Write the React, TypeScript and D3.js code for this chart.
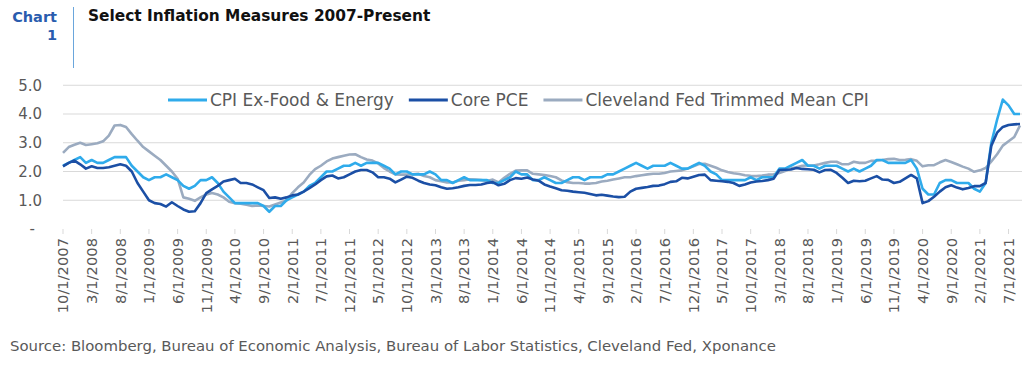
import React, { useEffect, useRef } from 'react';
import * as d3 from 'd3';

// monthly, 10/1/2007 .. 9/1/2021
const months = d3.timeMonth
  .range(new Date(2007, 9, 1), new Date(2021, 9, 1))
  .map((d) => `${d.getMonth() + 1}/1/${d.getFullYear()}`);

const cpiCore = [
  2.2, 2.3, 2.4,
  2.5, 2.3, 2.4, 2.3, 2.3, 2.4, 2.5, 2.5, 2.5, 2.2, 2.0, 1.8,
  1.7, 1.8, 1.8, 1.9, 1.8, 1.7, 1.5, 1.4, 1.5, 1.7, 1.7, 1.8,
  1.6, 1.3, 1.1, 0.9, 0.9, 0.9, 0.9, 0.9, 0.8, 0.6, 0.8, 0.8,
  1.0, 1.1, 1.2, 1.3, 1.5, 1.6, 1.8, 2.0, 2.0, 2.1, 2.2, 2.2,
  2.3, 2.2, 2.3, 2.3, 2.3, 2.2, 2.1, 1.9, 2.0, 2.0, 1.9, 1.9,
  1.9, 2.0, 1.9, 1.7, 1.7, 1.6, 1.7, 1.8, 1.7, 1.7, 1.7, 1.7,
  1.6, 1.6, 1.7, 1.8, 2.0, 1.9, 1.9, 1.7, 1.7, 1.8, 1.7, 1.6,
  1.6, 1.7, 1.8, 1.8, 1.7, 1.8, 1.8, 1.8, 1.9, 1.9, 2.0, 2.1,
  2.2, 2.3, 2.2, 2.1, 2.2, 2.2, 2.2, 2.3, 2.2, 2.1, 2.1, 2.2,
  2.3, 2.2, 2.0, 1.9, 1.7, 1.7, 1.7, 1.7, 1.7, 1.8, 1.7, 1.8,
  1.8, 1.8, 2.1, 2.1, 2.2, 2.3, 2.4, 2.2, 2.2, 2.1, 2.2, 2.2,
  2.2, 2.1, 2.0, 2.1, 2.0, 2.1, 2.2, 2.4, 2.4, 2.3, 2.3, 2.3,
  2.3, 2.4, 2.1, 1.4, 1.2, 1.2, 1.6, 1.7, 1.7, 1.6, 1.6, 1.6,
  1.4, 1.3, 1.6, 3.0, 3.8, 4.5, 4.3, 4.0, 4.0,
];

const corePce = [
  2.18, 2.3, 2.38,
  2.25, 2.1, 2.18, 2.12, 2.12, 2.15, 2.2, 2.25, 2.2, 2.0, 1.6, 1.3,
  1.0, 0.9, 0.87, 0.78, 0.93, 0.8, 0.68, 0.6, 0.62, 0.9, 1.25, 1.38,
  1.5, 1.65, 1.7, 1.75, 1.6, 1.6, 1.55, 1.45, 1.35, 1.08, 1.1, 1.05,
  1.1, 1.17, 1.2, 1.3, 1.42, 1.55, 1.7, 1.83, 1.86, 1.76, 1.8, 1.9,
  2.0, 2.05, 2.05, 1.97, 1.8, 1.8, 1.75, 1.62, 1.72, 1.82, 1.78, 1.68,
  1.6, 1.55, 1.52, 1.45, 1.4, 1.42, 1.45, 1.5, 1.53, 1.53, 1.55, 1.6,
  1.63, 1.52, 1.57, 1.7, 1.77, 1.75, 1.79, 1.72, 1.68, 1.55, 1.48, 1.42,
  1.35, 1.33, 1.3, 1.28, 1.26, 1.22, 1.17, 1.19, 1.16, 1.13, 1.11, 1.12,
  1.3, 1.4, 1.43, 1.46, 1.5, 1.51, 1.56, 1.64, 1.66, 1.78, 1.76, 1.82,
  1.88, 1.89, 1.7, 1.68, 1.66, 1.64, 1.6, 1.5, 1.55, 1.62, 1.65, 1.67,
  1.7, 1.75, 2.05, 2.06, 2.07, 2.12, 2.09, 2.08, 2.06, 1.97, 2.05, 2.06,
  1.95, 1.78, 1.6, 1.68, 1.66, 1.68, 1.76, 1.84, 1.72, 1.71, 1.6, 1.64,
  1.76, 1.88, 1.76, 0.9, 0.97, 1.12, 1.3, 1.45, 1.52, 1.44, 1.38, 1.43,
  1.49, 1.49, 1.6, 2.9, 3.35, 3.55, 3.62, 3.64, 3.65,
];

const trimmedMean = [
  2.65, 2.85, 2.93,
  3.0, 2.92, 2.95, 2.98, 3.05, 3.25, 3.6, 3.62, 3.55, 3.3, 3.07, 2.85,
  2.7, 2.55, 2.4, 2.2, 2.0, 1.75, 1.1, 1.05, 0.98, 1.1, 1.2, 1.25,
  1.2, 1.1, 0.95, 0.9, 0.88, 0.84, 0.8, 0.82, 0.8, 0.78, 0.85, 0.92,
  0.99, 1.25, 1.45, 1.62, 1.88, 2.08, 2.2, 2.35, 2.45, 2.5, 2.55, 2.59,
  2.6, 2.5, 2.42, 2.38, 2.28, 2.12, 2.0, 1.9, 1.89, 1.89, 1.9, 1.92,
  1.84, 1.8, 1.7, 1.66, 1.62, 1.62, 1.68, 1.7, 1.73, 1.72, 1.7, 1.67,
  1.72, 1.62, 1.78, 1.92, 2.03, 2.04, 2.04, 1.92, 1.9, 1.88, 1.84, 1.8,
  1.69, 1.63, 1.6, 1.6, 1.58, 1.58, 1.6, 1.65, 1.68, 1.72, 1.76, 1.8,
  1.8, 1.84, 1.87, 1.9, 1.92, 1.92, 1.95, 2.0, 2.02, 2.04, 2.1, 2.18,
  2.26, 2.27, 2.2, 2.13, 2.04, 1.98, 1.94, 1.91, 1.87, 1.85, 1.84, 1.86,
  1.89, 1.9, 1.95, 2.02, 2.1, 2.15, 2.2, 2.21, 2.21, 2.25, 2.3, 2.34,
  2.34, 2.25, 2.25, 2.34, 2.3, 2.3, 2.37, 2.38, 2.4, 2.43, 2.44, 2.4,
  2.41, 2.43, 2.37, 2.18, 2.22, 2.22, 2.32, 2.4, 2.33, 2.25, 2.17, 2.1,
  1.99, 2.04, 2.12, 2.35, 2.6, 2.9, 3.05, 3.2, 3.6,
];

const tickLabels = [
  '10/1/2007', '3/1/2008', '8/1/2008', '1/1/2009', '6/1/2009', '11/1/2009',
  '4/1/2010', '9/1/2010', '2/1/2011', '7/1/2011', '12/1/2011', '5/1/2012',
  '10/1/2012', '3/1/2013', '8/1/2013', '1/1/2014', '6/1/2014', '11/1/2014',
  '4/1/2015', '9/1/2015', '2/1/2016', '7/1/2016', '12/1/2016', '5/1/2017',
  '10/1/2017', '3/1/2018', '8/1/2018', '1/1/2019', '6/1/2019', '11/1/2019',
  '4/1/2020', '9/1/2020', '2/1/2021', '7/1/2021',
];

const yTicks = [0, 1, 2, 3, 4, 5];

const seriesNames = ['CPI Ex-Food & Energy', 'Core PCE', 'Cleveland Fed Trimmed Mean CPI'];
const seriesColors = ['#2fabeb', '#1b4fa5', '#9babc0'];

const FONT = "'DejaVu Sans', sans-serif";
const GREY = '#595959';

const App = () => {
  const ref = useRef(null);

  useEffect(() => {
    const svg = d3.select(ref.current);
    svg.selectAll('*').remove();

    const x = d3.scalePoint().domain(months).range([63, 1020]);
    const y = d3.scaleLinear().domain([0, 5]).range([229, 85.25]);

    // header
    svg.append('text').attr('x', 57).attr('y', 22).attr('text-anchor', 'end')
      .attr('font-family', FONT).attr('font-weight', 'bold').attr('font-size', 14.5)
      .attr('fill', '#2a5cae').text('Chart');
    svg.append('text').attr('x', 57).attr('y', 40).attr('text-anchor', 'end')
      .attr('font-family', FONT).attr('font-weight', 'bold').attr('font-size', 14.5)
      .attr('fill', '#2a5cae').text('1');
    svg.append('line').attr('x1', 73.5).attr('x2', 73.5).attr('y1', 7).attr('y2', 68)
      .attr('stroke', '#6aa6dc').attr('stroke-width', 1);
    svg.append('text').attr('x', 88).attr('y', 21)
      .attr('font-family', FONT).attr('font-weight', 'bold').attr('font-size', 15.4)
      .attr('fill', '#111').text('Select Inflation Measures 2007-Present');

    // gridlines
    svg.append('g').selectAll('line')
      .data(yTicks.filter((d) => d > 0))
      .enter().append('line')
      .attr('x1', 63).attr('x2', 1022)
      .attr('y1', (d) => y(d)).attr('y2', (d) => y(d))
      .attr('stroke', '#d9d9d9').attr('stroke-width', 1);

    // y labels
    svg.append('g').selectAll('text')
      .data(yTicks)
      .enter().append('text')
      .attr('x', (d) => (d === 0 ? 35 : 42))
      .attr('y', (d) => y(d))
      .attr('dy', '0.35em')
      .attr('text-anchor', 'end')
      .attr('font-family', FONT).attr('font-size', 15).attr('fill', GREY)
      .text((d) => (d === 0 ? '-' : d.toFixed(1)));

    // x ticks + labels
    const xt = svg.append('g').selectAll('g')
      .data(tickLabels)
      .enter().append('g')
      .attr('transform', (d) => `translate(${x(d)},0)`);
    xt.append('line').attr('y1', 229).attr('y2', 234)
      .attr('stroke', '#d9d9d9');
    xt.append('text')
      .attr('transform', 'translate(0,238) rotate(-90)')
      .attr('text-anchor', 'end')
      .attr('dy', '0.36em')
      .attr('font-family', FONT).attr('font-size', 14.7).attr('fill', GREY)
      .text((d) => d);

    // lines
    const data = [cpiCore, corePce, trimmedMean];
    const line = d3.line().x((d, i) => x(months[i])).y((d) => y(d));
    svg.append('g').selectAll('path')
      .data([2, 0, 1])
      .enter().append('path')
      .attr('d', (k) => line(data[k]))
      .attr('fill', 'none')
      .attr('stroke', (k) => seriesColors[k])
      .attr('stroke-width', 2.6)
      .attr('stroke-linejoin', 'round');

    // legend
    const legend = svg.append('g');
    let lx = 168;
    seriesNames.forEach((name, i) => {
      legend.append('line').attr('x1', lx).attr('x2', lx + 39).attr('y1', 100).attr('y2', 100)
        .attr('stroke', seriesColors[i]).attr('stroke-width', 3);
      const t = legend.append('text').attr('x', lx + 42).attr('y', 100).attr('dy', '0.35em')
        .attr('font-family', FONT).attr('font-size', 17).attr('fill', GREY).text(name);
      lx += 42 + t.node().getComputedTextLength() + 15;
    });

    // source
    svg.append('text').attr('x', 10).attr('y', 351)
      .attr('font-family', FONT).attr('font-size', 14.9).attr('fill', GREY)
      .text('Source: Bloomberg, Bureau of Economic Analysis, Bureau of Labor Statistics, Cleveland Fed, Xponance');
  });

  return (
    <svg ref={ref} width="1024" height="365" style={{ position: 'absolute', left: 0, top: 0, background: '#fff' }}></svg>
  );
};

export default App;
